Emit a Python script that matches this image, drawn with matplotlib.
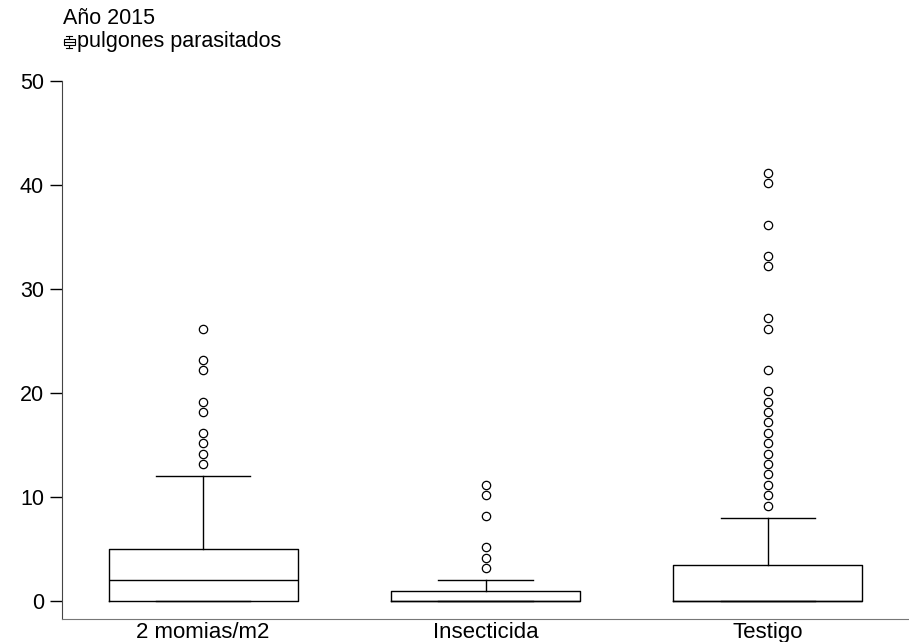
import matplotlib

matplotlib.use("Agg")

import matplotlib.pyplot as plt
from matplotlib.lines import Line2D
from matplotlib.patches import Rectangle

plt.rcParams["font.family"] = ["Liberation Sans", "DejaVu Sans"]

# data
groups = ["2 momias/m2", "Insecticida", "Testigo"]
whisker_lo = [0, 0, 0]
q1 = [0, 0, 0]
medians = [2, 0, 0]
q3 = [5, 1, 3.5]
whisker_hi = [12, 2, 8]
fliers_momias = [13.2, 14.2, 15.2, 16.2, 18.2, 19.2, 22.2, 23.2, 26.2]
fliers_insecticida = [3.2, 4.2, 5.2, 8.2, 10.2, 11.2]
fliers_testigo = [9.2, 10.2, 11.2, 12.2, 13.2, 14.2, 15.2, 16.2, 17.2, 18.2,
                  19.2, 20.2, 22.2, 26.2, 27.2, 32.2, 33.2, 36.2, 40.2, 41.2]
fliers = [fliers_momias, fliers_insecticida, fliers_testigo]

stats = []
for i, name in enumerate(groups):
    stats.append({
        "label": name,
        "whislo": whisker_lo[i],
        "q1": q1[i],
        "med": medians[i],
        "q3": q3[i],
        "whishi": whisker_hi[i],
        "fliers": fliers[i],
    })

fig = plt.figure(figsize=(9.09, 6.42), dpi=100)
ax = fig.add_axes([62 / 909, 23 / 642, 847 / 909, 538 / 642])

line_kw = dict(color="black", linewidth=1.0)
ax.bxp(
    stats,
    positions=[1, 2, 3],
    widths=0.67,
    capwidths=0.335,
    boxprops=line_kw,
    whiskerprops=line_kw,
    capprops=line_kw,
    medianprops=line_kw,
    flierprops=dict(marker="o", markersize=6, markerfacecolor="none",
                    markeredgecolor="black", markeredgewidth=0.9),
)

ax.set_xlim(0.5, 3.5)
ax.set_ylim(-1.7, 50)
ax.set_yticks([0, 10, 20, 30, 40, 50])
ax.tick_params(axis="y", direction="out", length=9, width=1.0,
               labelsize=15.5, pad=4)
ax.tick_params(axis="x", length=0, labelsize=16, pad=2)
ax.spines["top"].set_visible(False)
ax.spines["right"].set_visible(False)
ax.spines["left"].set_bounds(-1.7, 50)
ax.spines["left"].set_color("#444444")
ax.spines["bottom"].set_color("#777777")

# header text with a small box-plot glyph
fig.text(63 / 909, 1 - 19 / 642, "Año 2015", fontsize=15.5, va="center", ha="left")
fig.text(77 / 909, 1 - 42 / 642, "pulgones parasitados", fontsize=15.5,
         va="center", ha="left")
gx, gy = 69 / 909, 1 - 42 / 642
pw, ph = 1 / 909, 1 / 642
fig.patches.append(Rectangle((gx - 5.5 * pw, gy - 3 * ph), 11 * pw, 6 * ph,
                             transform=fig.transFigure, fill=False,
                             edgecolor="black", linewidth=0.8))
fig.lines.append(Line2D([gx - 5.5 * pw, gx + 5.5 * pw], [gy, gy],
                        transform=fig.transFigure, color="black", lw=0.8))
fig.lines.append(Line2D([gx, gx], [gy + 3 * ph, gy + 6 * ph],
                        transform=fig.transFigure, color="black", lw=0.8))
fig.lines.append(Line2D([gx, gx], [gy - 3 * ph, gy - 6 * ph],
                        transform=fig.transFigure, color="black", lw=0.8))
fig.lines.append(Line2D([gx - 3 * pw, gx + 3 * pw], [gy + 6 * ph, gy + 6 * ph],
                        transform=fig.transFigure, color="black", lw=0.8))
fig.lines.append(Line2D([gx - 3 * pw, gx + 3 * pw], [gy - 6 * ph, gy - 6 * ph],
                        transform=fig.transFigure, color="black", lw=0.8))

fig.savefig("out.png", dpi=100)
